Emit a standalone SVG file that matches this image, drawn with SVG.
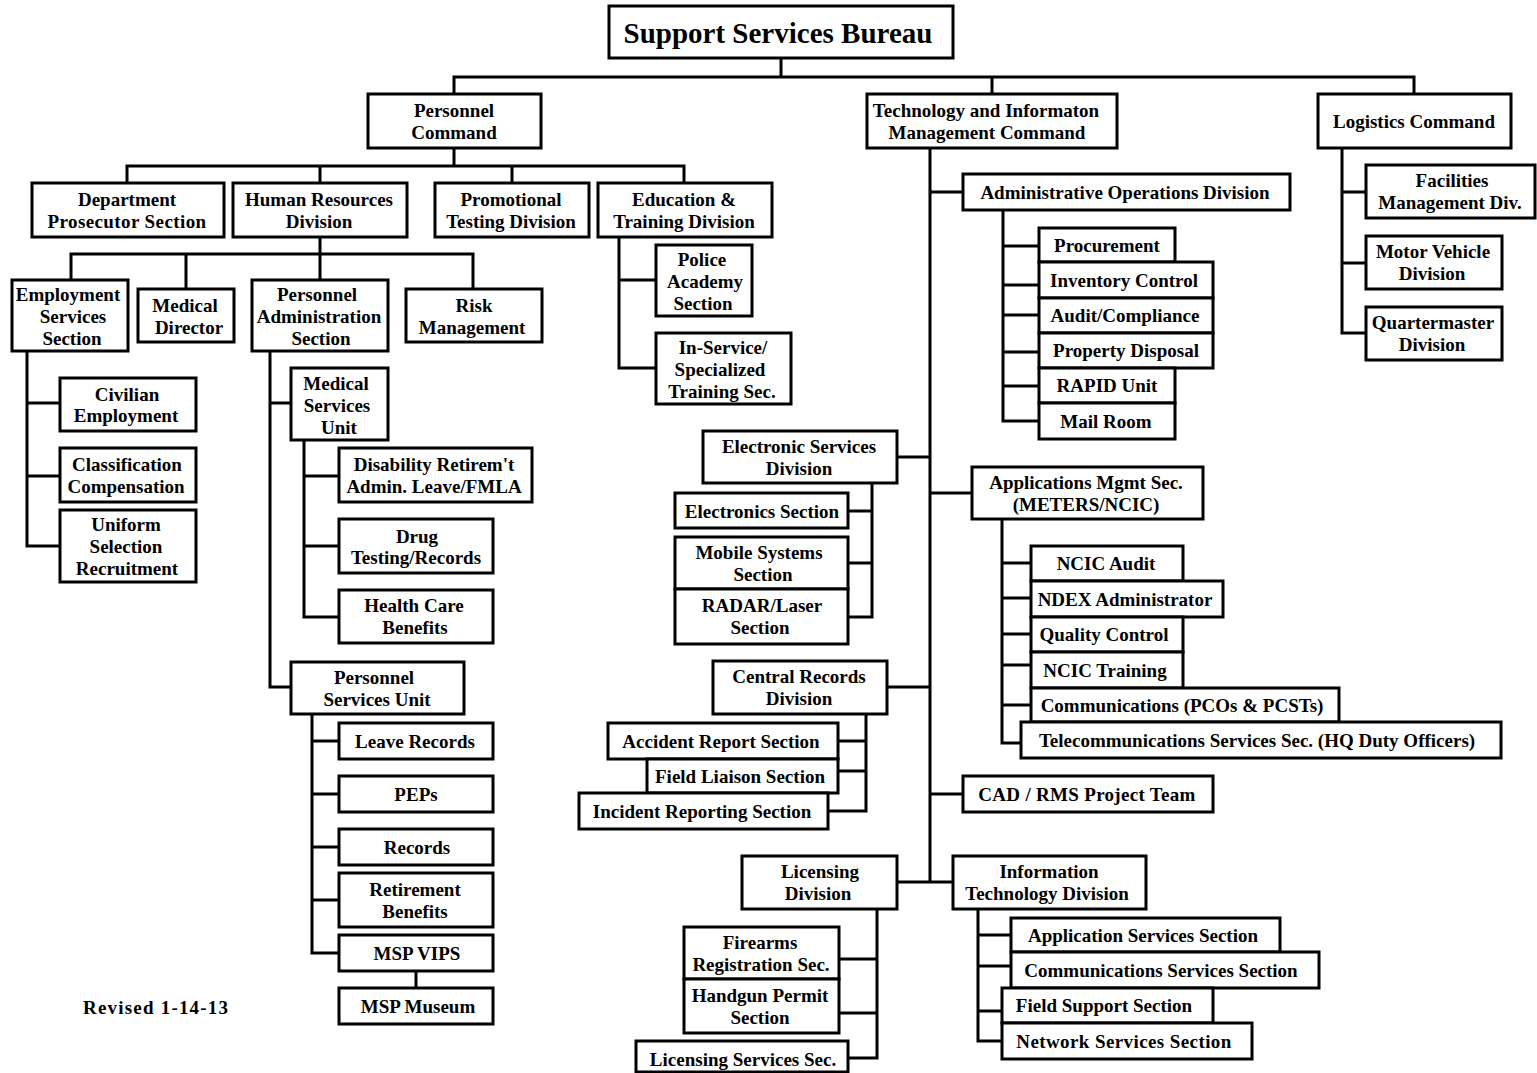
<svg xmlns="http://www.w3.org/2000/svg" width="1537" height="1073" viewBox="0 0 1537 1073">
<style>
.b{fill:#fff;stroke:#000;stroke-width:3}
.t{font-family:"Liberation Serif","Times New Roman",serif;font-weight:bold;font-size:19px;text-anchor:middle;fill:#000}
.c{fill:none;stroke:#000;stroke-width:3;stroke-linecap:square}
</style>
<rect width="1537" height="1073" fill="#fff"/>
<g id="connectors">
<path class="c" d="M781,59V77 M454,77H1414 M454,77V94 M992,77V94 M1414,77V94
M454,148V166 M127,166H684 M127,166V183 M320,166V183 M512,166V183 M684,166V183
M320,237V254 M71,254H473 M71,254V280 M186,254V289 M320,254V280 M473,254V289
M27,351V546 M27,403H60 M27,476H60 M27,546H60
M270,351V687 M270,403H291 M270,687H291
M304,440V617 M304,476H339 M304,546H339 M304,617H339
M312,714V953 M312,741H339 M312,794H339 M312,847H339 M312,900H339 M312,953H339
M416,971V988
M619,237V368 M619,280H656 M619,368H656
M930,148V882 M930,192H963 M897,457H930 M930,493H972 M887,687H930 M930,794H963 M897,882H953
M1003,210V421 M1003,246H1039 M1003,285H1039 M1003,315H1039 M1003,352H1039 M1003,386H1039 M1003,421H1039
M872,483V617 M848,511H872 M848,563H872 M848,617H872
M1002,519V743 M1002,563H1031 M1002,598H1031 M1002,634H1031 M1002,665H1031 M1002,705H1031 M1002,743H1021
M866,714V811 M838,741H866 M838,771H866 M828,811H866
M877,909V1058 M839,959H877 M839,1013H877 M848,1058H877
M978,909V1041 M978,935H1011 M978,966H1011 M978,1011H1002 M978,1041H1002
M1342,148V333 M1342,192H1366 M1342,263H1366 M1342,333H1366"/>
</g>
<g id="support-services-bureau"><rect class="b" x="609" y="6" width="344" height="52"/><text class="t" x="778" y="43" style="font-size:29px">Support Services Bureau</text></g>
<g id="personnel-command"><rect class="b" x="368" y="94" width="173" height="54"/><text class="t"><tspan x="454" y="117">Personnel</tspan><tspan x="454" y="139">Command</tspan></text></g>
<g id="tech-command"><rect class="b" x="867" y="94" width="250" height="54"/><text class="t"><tspan x="986" y="117">Technology and Informaton</tspan><tspan x="987" y="139">Management Command</tspan></text></g>
<g id="logistics-command"><rect class="b" x="1318" y="94" width="193" height="54"/><text class="t" x="1414" y="128">Logistics Command</text></g>
<g id="dept-prosecutor"><rect class="b" x="32" y="183" width="192" height="54"/><text class="t"><tspan x="127" y="206">Department</tspan><tspan x="127" y="228" style="letter-spacing:0.4px">Prosecutor  Section</tspan></text></g>
<g id="human-resources"><rect class="b" x="233" y="183" width="174" height="54"/><text class="t"><tspan x="319" y="206">Human Resources</tspan><tspan x="319" y="228">Division</tspan></text></g>
<g id="promotional-testing"><rect class="b" x="435" y="183" width="154" height="54"/><text class="t"><tspan x="511" y="206">Promotional</tspan><tspan x="511" y="228">Testing Division</tspan></text></g>
<g id="education-training"><rect class="b" x="598" y="183" width="174" height="54"/><text class="t"><tspan x="684" y="206">Education &amp;</tspan><tspan x="684" y="228">Training  Division</tspan></text></g>
<g id="employment-services"><rect class="b" x="12" y="280" width="116" height="71"/><text class="t"><tspan x="68" y="301">Employment</tspan><tspan x="73" y="323">Services</tspan><tspan x="72" y="345">Section</tspan></text></g>
<g id="medical-director"><rect class="b" x="138" y="289" width="96" height="53"/><text class="t"><tspan x="185" y="312">Medical</tspan><tspan x="189" y="334">Director</tspan></text></g>
<g id="personnel-admin"><rect class="b" x="252" y="280" width="136" height="71"/><text class="t"><tspan x="317" y="301">Personnel</tspan><tspan x="319" y="323">Administration</tspan><tspan x="321" y="345">Section</tspan></text></g>
<g id="risk-management"><rect class="b" x="406" y="289" width="136" height="53"/><text class="t"><tspan x="474" y="312">Risk</tspan><tspan x="472" y="334">Management</tspan></text></g>
<g id="civilian-employment"><rect class="b" x="60" y="378" width="136" height="53"/><text class="t"><tspan x="127" y="401">Civilian</tspan><tspan x="126" y="422">Employment</tspan></text></g>
<g id="classification"><rect class="b" x="60" y="448" width="136" height="54"/><text class="t"><tspan x="127" y="471">Classification</tspan><tspan x="126" y="493">Compensation</tspan></text></g>
<g id="uniform-selection"><rect class="b" x="60" y="510" width="136" height="72"/><text class="t"><tspan x="126" y="531">Uniform</tspan><tspan x="126" y="553">Selection</tspan><tspan x="127" y="575">Recruitment</tspan></text></g>
<g id="medical-services-unit"><rect class="b" x="291" y="368" width="97" height="72"/><text class="t"><tspan x="336" y="390">Medical</tspan><tspan x="337" y="412">Services</tspan><tspan x="339" y="434">Unit</tspan></text></g>
<g id="disability"><rect class="b" x="339" y="448" width="193" height="54"/><text class="t"><tspan x="434" y="471">Disability Retirem't</tspan><tspan x="434" y="493">Admin. Leave/FMLA</tspan></text></g>
<g id="drug-testing"><rect class="b" x="339" y="519" width="154" height="54"/><text class="t"><tspan x="417" y="543">Drug</tspan><tspan x="416" y="564">Testing/Records</tspan></text></g>
<g id="health-care"><rect class="b" x="339" y="590" width="154" height="53"/><text class="t"><tspan x="414" y="612">Health Care</tspan><tspan x="415" y="634">Benefits</tspan></text></g>
<g id="personnel-services-unit"><rect class="b" x="291" y="662" width="173" height="52"/><text class="t"><tspan x="374" y="684">Personnel</tspan><tspan x="377" y="706">Services Unit</tspan></text></g>
<g id="leave-records"><rect class="b" x="339" y="723" width="154" height="36"/><text class="t" x="415" y="748">Leave Records</text></g>
<g id="peps"><rect class="b" x="339" y="776" width="154" height="36"/><text class="t" x="416" y="801">PEPs</text></g>
<g id="records"><rect class="b" x="339" y="829" width="154" height="36"/><text class="t" x="417" y="854">Records</text></g>
<g id="retirement-benefits"><rect class="b" x="339" y="873" width="154" height="54"/><text class="t"><tspan x="415" y="896">Retirement</tspan><tspan x="415" y="918">Benefits</tspan></text></g>
<g id="msp-vips"><rect class="b" x="339" y="935" width="154" height="36"/><text class="t" x="417" y="960">MSP VIPS</text></g>
<g id="msp-museum"><rect class="b" x="339" y="988" width="154" height="36"/><text class="t" x="418" y="1013">MSP Museum</text></g>
<g id="police-academy"><rect class="b" x="656" y="245" width="96" height="71"/><text class="t"><tspan x="702" y="266">Police</tspan><tspan x="705" y="288">Academy</tspan><tspan x="703" y="310">Section</tspan></text></g>
<g id="in-service"><rect class="b" x="656" y="333" width="135" height="71"/><text class="t"><tspan x="723" y="354">In-Service/</tspan><tspan x="720" y="376">Specialized</tspan><tspan x="722" y="398">Training Sec.</tspan></text></g>
<g id="admin-operations"><rect class="b" x="963" y="174" width="327" height="36"/><text class="t" x="1125" y="199">Administrative Operations Division</text></g>
<g id="procurement"><rect class="b" x="1039" y="228" width="136" height="34"/><text class="t" x="1107" y="252">Procurement</text></g>
<g id="inventory-control"><rect class="b" x="1039" y="262" width="174" height="36"/><text class="t" x="1124" y="287">Inventory Control</text></g>
<g id="audit-compliance"><rect class="b" x="1039" y="298" width="174" height="35"/><text class="t" x="1125" y="322">Audit/Compliance</text></g>
<g id="property-disposal"><rect class="b" x="1039" y="333" width="174" height="35"/><text class="t" x="1126" y="357">Property Disposal</text></g>
<g id="rapid-unit"><rect class="b" x="1039" y="368" width="136" height="35"/><text class="t" x="1107" y="392">RAPID Unit</text></g>
<g id="mail-room"><rect class="b" x="1039" y="403" width="136" height="36"/><text class="t" x="1106" y="428">Mail Room</text></g>
<g id="electronic-services"><rect class="b" x="703" y="431" width="194" height="52"/><text class="t"><tspan x="799" y="453">Electronic Services</tspan><tspan x="799" y="475">Division</tspan></text></g>
<g id="electronics-section"><rect class="b" x="675" y="493" width="173" height="35"/><text class="t" x="762" y="518">Electronics Section</text></g>
<g id="mobile-systems"><rect class="b" x="675" y="537" width="173" height="52"/><text class="t"><tspan x="759" y="559">Mobile Systems</tspan><tspan x="763" y="581">Section</tspan></text></g>
<g id="radar-laser"><rect class="b" x="675" y="589" width="173" height="55"/><text class="t"><tspan x="762" y="612">RADAR/Laser</tspan><tspan x="760" y="634">Section</tspan></text></g>
<g id="applications-mgmt"><rect class="b" x="972" y="467" width="231" height="52"/><text class="t"><tspan x="1086" y="489">Applications Mgmt Sec.</tspan><tspan x="1086" y="511">(METERS/NCIC)</tspan></text></g>
<g id="ncic-audit"><rect class="b" x="1031" y="546" width="152" height="35"/><text class="t" x="1106" y="570">NCIC Audit</text></g>
<g id="ndex-admin"><rect class="b" x="1031" y="581" width="192" height="36"/><text class="t" x="1125" y="606">NDEX Administrator</text></g>
<g id="quality-control"><rect class="b" x="1031" y="617" width="152" height="35"/><text class="t" x="1104" y="641">Quality Control</text></g>
<g id="ncic-training"><rect class="b" x="1031" y="652" width="152" height="36"/><text class="t" x="1105" y="677">NCIC Training</text></g>
<g id="communications-pcos"><rect class="b" x="1031" y="688" width="308" height="34"/><text class="t" x="1182" y="712">Communications (PCOs &amp; PCSTs)</text></g>
<g id="telecommunications"><rect class="b" x="1021" y="722" width="480" height="36"/><text class="t" x="1257" y="747">Telecommunications Services Sec. (HQ Duty Officers)</text></g>
<g id="central-records"><rect class="b" x="713" y="661" width="174" height="53"/><text class="t"><tspan x="799" y="683">Central Records</tspan><tspan x="799" y="705">Division</tspan></text></g>
<g id="accident-report"><rect class="b" x="608" y="723" width="230" height="36"/><text class="t" x="721" y="748">Accident Report Section</text></g>
<g id="field-liaison"><rect class="b" x="647" y="759" width="191" height="34"/><text class="t" x="740" y="783">Field Liaison Section</text></g>
<g id="incident-reporting"><rect class="b" x="579" y="793" width="249" height="36"/><text class="t" x="702" y="818">Incident Reporting Section</text></g>
<g id="cad-rms"><rect class="b" x="963" y="776" width="250" height="36"/><text class="t" x="1087" y="801" style="letter-spacing:0.3px">CAD / RMS  Project Team</text></g>
<g id="licensing-division"><rect class="b" x="742" y="856" width="155" height="53"/><text class="t"><tspan x="820" y="878">Licensing</tspan><tspan x="818" y="900">Division</tspan></text></g>
<g id="it-division"><rect class="b" x="953" y="856" width="193" height="53"/><text class="t"><tspan x="1049" y="878">Information</tspan><tspan x="1047" y="900">Technology Division</tspan></text></g>
<g id="firearms-registration"><rect class="b" x="684" y="927" width="155" height="52"/><text class="t"><tspan x="760" y="949">Firearms</tspan><tspan x="761" y="971">Registration Sec.</tspan></text></g>
<g id="handgun-permit"><rect class="b" x="684" y="979" width="155" height="54"/><text class="t"><tspan x="760" y="1002">Handgun Permit</tspan><tspan x="760" y="1024">Section</tspan></text></g>
<g id="licensing-services"><rect class="b" x="636" y="1041" width="212" height="31"/><text class="t" x="743" y="1066">Licensing Services Sec.</text></g>
<g id="application-services"><rect class="b" x="1011" y="918" width="269" height="34"/><text class="t" x="1143" y="942">Application Services Section</text></g>
<g id="communications-services"><rect class="b" x="1011" y="952" width="308" height="36"/><text class="t" x="1161" y="977">Communications Services Section</text></g>
<g id="field-support"><rect class="b" x="1002" y="988" width="211" height="35"/><text class="t" x="1104" y="1012">Field Support Section</text></g>
<g id="network-services"><rect class="b" x="1002" y="1023" width="250" height="36"/><text class="t" x="1124" y="1048" style="letter-spacing:0.4px">Network  Services Section</text></g>
<g id="facilities-management"><rect class="b" x="1366" y="165" width="169" height="53"/><text class="t"><tspan x="1452" y="187">Facilities</tspan><tspan x="1450" y="209">Management Div.</tspan></text></g>
<g id="motor-vehicle"><rect class="b" x="1366" y="236" width="136" height="53"/><text class="t"><tspan x="1433" y="258">Motor Vehicle</tspan><tspan x="1432" y="280">Division</tspan></text></g>
<g id="quartermaster"><rect class="b" x="1366" y="307" width="136" height="53"/><text class="t"><tspan x="1433" y="329">Quartermaster</tspan><tspan x="1432" y="351">Division</tspan></text></g>
<text class="t" x="83" y="1014" style="text-anchor:start;letter-spacing:1.2px">Revised 1-14-13</text>
</svg>
